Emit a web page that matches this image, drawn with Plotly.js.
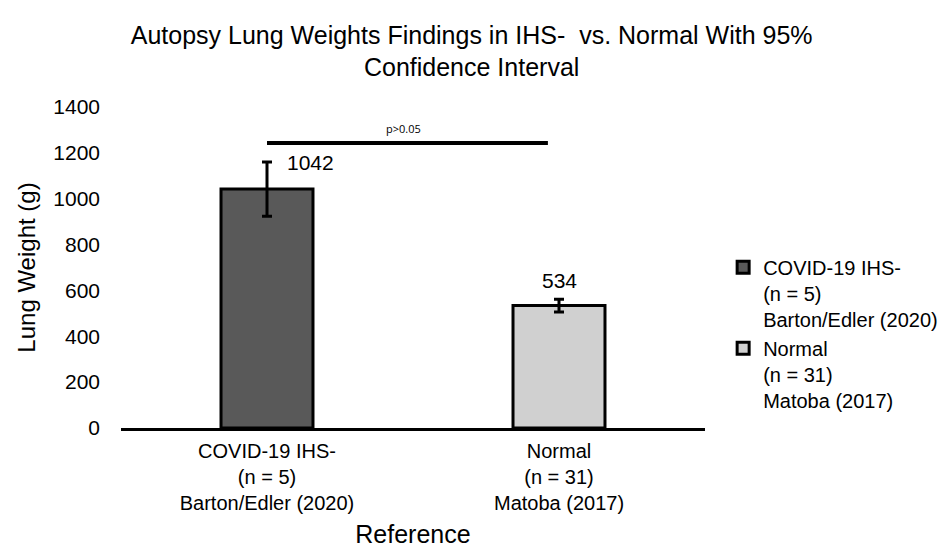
<!DOCTYPE html>
<html>
<head>
<meta charset="utf-8">
<script src="https://cdn.plot.ly/plotly-3.0.1.min.js"></script>
<style>html,body{margin:0;padding:0;background:#fff;}#chart{width:949px;height:548px;}</style>
</head>
<body>
<div id="chart"></div>
<script>
const categories = ["COVID-19 IHS-<br>(n = 5)<br>Barton/Edler (2020)", "Normal<br>(n = 31)<br>Matoba (2017)"];
const seriesNames = ["COVID-19 IHS-<br>(n = 5)<br>Barton/Edler (2020)", "Normal<br>(n = 31)<br>Matoba (2017)"];
const weights = [1042, 534];
const ciErrors = [118, 28];
const barColors = ["#595959", "#d0d0d0"];
const sigText = "p>0.05";
const sigLevel = 1243;
const yTicks = [0, 200, 400, 600, 800, 1000, 1200, 1400];

const FONT = "Liberation Sans, Arial, sans-serif";

const traces = categories.map((c, i) => ({
  type: "bar",
  x: [c],
  y: [weights[i]],
  name: seriesNames[i],
  marker: {color: barColors[i], line: {color: "#000", width: 3}},
  error_y: {type: "data", array: [ciErrors[i]], visible: true, color: "#000", thickness: 3, width: 5},
  hoverinfo: "none"
}));

const annotations = weights.map((w, i) => ({
  x: categories[i], y: w, xref: "x", yref: "y",
  text: String(w), showarrow: false,
  font: {family: FONT, size: 21, color: "#000"},
  xanchor: i === 0 ? "left" : "center", yanchor: "bottom",
  xshift: i === 0 ? 18 : 0,
  yshift: i === 0 ? ciErrors[i] * 0.2293 - 14 : ciErrors[i] * 0.2293 + 5
}));
annotations.push({
  x: 0.466, y: sigLevel, xref: "x", yref: "y",
  text: sigText, showarrow: false, yanchor: "bottom", yshift: 5,
  font: {family: "Open Sans, sans-serif", size: 11, color: "#000"}
});

const layout = {
  width: 949, height: 548,
  paper_bgcolor: "#fff", plot_bgcolor: "#fff",
  margin: {l: 121, r: 244, t: 107, b: 120},
  barmode: "overlay",
  bargap: 0.685,
  title: {
    text: "Autopsy Lung Weights Findings in IHS-  vs. Normal With 95%<br>Confidence Interval",
    font: {family: FONT, size: 25, color: "#000"},
    x: 0.497, xanchor: "center", y: 0.92, yanchor: "top"
  },
  xaxis: {
    type: "category",
    range: [-0.5, 1.5],
    showline: true, linecolor: "#000", linewidth: 3,
    ticks: "", showgrid: false,
    tickfont: {family: FONT, size: 20, color: "#000"},
    ticklabelstandoff: 3,
    title: {text: "Reference", font: {family: FONT, size: 25, color: "#000"}, standoff: 16}
  },
  yaxis: {
    range: [0, 1400],
    tickvals: yTicks,
    showgrid: false, zeroline: false, showline: false, ticks: "",
    tickfont: {family: FONT, size: 21, color: "#000"},
    ticklabelstandoff: 20,
    title: {text: "Lung Weight (g)", font: {family: FONT, size: 24, color: "#000"}, standoff: 10}
  },
  legend: {
    xref: "container", yref: "container",
    x: 0.762, y: 0.548, xanchor: "left", yanchor: "top",
    font: {family: FONT, size: 20, color: "#000"},
    valign: "top", itemgap: 12, tracegroupgap: 12,
    itemwidth: 30
  },
  shapes: [{
    type: "line", xref: "x", yref: "y",
    x0: 0, x1: 0.962, y0: sigLevel, y1: sigLevel,
    line: {color: "#000", width: 4}
  }],
  annotations: annotations
};

Plotly.newPlot("chart", traces, layout, {displayModeBar: false, staticPlot: true});
</script>
</body>
</html>
